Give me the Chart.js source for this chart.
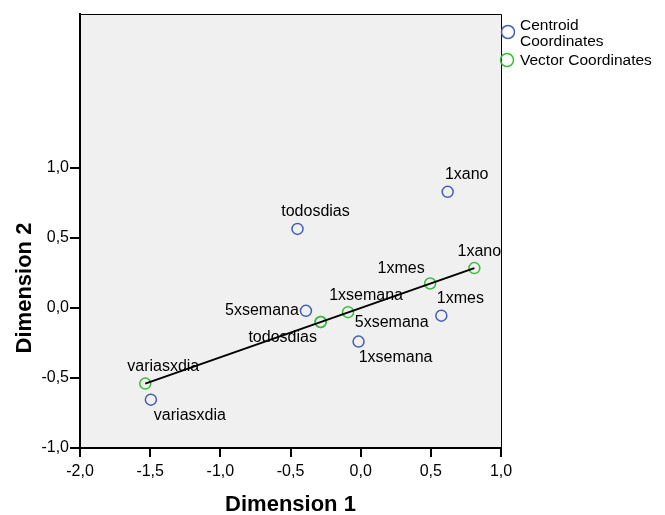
<!DOCTYPE html>
<html>
<head>
  <title>Centroid and Vector Coordinates</title>
  <script src="https://cdn.jsdelivr.net/npm/chart.js"></script>
  <style>
    body { margin: 0; background: #fff; }
  </style>
</head>
<body>
  <canvas id="chart" width="665" height="515"></canvas>
  <script>
    // categories, same order in both series
    const categories = ["1xano", "1xmes", "1xsemana", "5xsemana", "todosdias", "variasxdia"];

    const centroidX = [0.62, 0.575, -0.015, -0.39, -0.45, -1.495];
    const centroidY = [0.83, -0.055, -0.24, -0.02, 0.565, -0.655];

    const vectorX = [0.81, 0.495, -0.09, -0.285, -0.285, -1.535];
    const vectorY = [0.285, 0.175, -0.03, -0.10, -0.10, -0.54];

    const xTicks = [-2.0, -1.5, -1.0, -0.5, 0.0, 0.5, 1.0];
    const yTicks = [-1.0, -0.5, 0.0, 0.5, 1.0];

    const BLUE = "#4060b8";
    const GREEN = "#3cbc3c";
    const FONT = "'Liberation Sans', Arial, sans-serif";

    // label offsets in px from each point [dx, dy]
    const centroidLabelPos = [[19, -17], [19, -17], [37, 16], [-44, 0], [18, -17], [39, 16]];
    const vectorLabelPos = [[5, -17], [-29, -15], [18, -17], [71, 1], [-38, 16], [18, -17]];

    const toPoints = (xs, ys) => xs.map((x, i) => ({ x: x, y: ys[i] }));

    // fitted line between the two extreme vector points
    const iMin = vectorX.indexOf(Math.min(...vectorX));
    const iMax = vectorX.indexOf(Math.max(...vectorX));
    const linePoints = [
      { x: vectorX[iMin], y: vectorY[iMin] },
      { x: vectorX[iMax], y: vectorY[iMax] }
    ];

    const fmt = v => v.toFixed(1).replace(".", ",");

    const plotDecor = {
      id: "plotDecor",
      beforeDraw(chart) {
        const { ctx, chartArea: a } = chart;
        ctx.save();
        ctx.fillStyle = "#f0f0f0";
        ctx.fillRect(a.left, a.top, a.right - a.left, a.bottom - a.top);
        ctx.restore();
      },
      afterDraw(chart) {
        const { ctx, chartArea: a } = chart;
        ctx.save();
        // top and right frame
        ctx.strokeStyle = "#000";
        ctx.lineWidth = 1;
        ctx.beginPath();
        ctx.moveTo(a.left, a.top + 0.5);
        ctx.lineTo(a.right + 0.5, a.top + 0.5);
        ctx.lineTo(a.right + 0.5, a.bottom);
        ctx.stroke();

        // axis titles
        ctx.fillStyle = "#000";
        ctx.font = "bold 22px " + FONT;
        ctx.textAlign = "center";
        ctx.textBaseline = "middle";
        ctx.fillText("Dimension 1", (a.left + a.right) / 2, 505);
        ctx.translate(25, 288);
        ctx.rotate(-Math.PI / 2);
        ctx.fillText("Dimension 2", 0, 0);
        ctx.restore();

        // legend
        ctx.save();
        ctx.lineWidth = 1.5;
        ctx.strokeStyle = BLUE;
        ctx.beginPath();
        ctx.arc(508, 32, 6.5, 0, Math.PI * 2);
        ctx.stroke();
        ctx.strokeStyle = GREEN;
        ctx.beginPath();
        ctx.arc(507, 60, 6.5, 0, Math.PI * 2);
        ctx.stroke();
        ctx.fillStyle = "#000";
        ctx.font = "15.5px " + FONT;
        ctx.textAlign = "left";
        ctx.textBaseline = "middle";
        ctx.fillText("Centroid", 520, 26);
        ctx.fillText("Coordinates", 520, 42);
        ctx.fillText("Vector Coordinates", 520, 61);
        ctx.restore();
      },
      afterDatasetsDraw(chart) {
        const { ctx } = chart;
        ctx.save();
        ctx.fillStyle = "#000";
        ctx.font = "16px " + FONT;
        ctx.textAlign = "center";
        ctx.textBaseline = "middle";
        [centroidLabelPos, vectorLabelPos].forEach((pos, di) => {
          const meta = chart.getDatasetMeta(di);
          meta.data.forEach((pt, j) => {
            ctx.fillText(categories[j], pt.x + pos[j][0], pt.y + pos[j][1]);
          });
        });
        ctx.restore();
      }
    };

    new Chart(document.getElementById("chart"), {
      type: "scatter",
      data: {
        datasets: [
          {
            label: "Centroid Coordinates",
            data: toPoints(centroidX, centroidY),
            pointStyle: "circle",
            pointRadius: 5.5,
            pointBorderWidth: 1.5,
            borderColor: BLUE,
            backgroundColor: "rgba(0,0,0,0)",
            order: 2
          },
          {
            label: "Vector Coordinates",
            data: toPoints(vectorX, vectorY),
            pointStyle: "circle",
            pointRadius: 5.5,
            pointBorderWidth: 1.5,
            borderColor: GREEN,
            backgroundColor: "rgba(0,0,0,0)",
            order: 1
          },
          {
            label: "line",
            data: linePoints,
            showLine: true,
            pointRadius: 0,
            borderColor: "#000",
            borderWidth: 2,
            order: 0
          }
        ]
      },
      options: {
        responsive: false,
        animation: false,
        layout: { padding: { top: 14, right: 164, left: 0, bottom: 0 } },
        plugins: {
          legend: { display: false },
          tooltip: { enabled: false }
        },
        scales: {
          x: {
            type: "linear",
            min: -2,
            max: 1,
            afterBuildTicks: axis => { axis.ticks = xTicks.map(v => ({ value: v })); },
            afterFit: axis => { axis.height = 67; },
            ticks: {
              callback: v => fmt(v),
              color: "#000",
              font: { family: FONT, size: 16 },
              padding: 5,
              maxRotation: 0
            },
            grid: { drawOnChartArea: false, drawTicks: true, tickLength: 9, color: "#000", lineWidth: 2 },
            border: { display: true, color: "#000", width: 2 }
          },
          y: {
            type: "linear",
            min: -1,
            max: 2.1,
            afterBuildTicks: axis => { axis.ticks = yTicks.map(v => ({ value: v })); },
            afterFit: axis => { axis.width = 80; },
            ticks: {
              callback: v => fmt(v),
              color: "#000",
              font: { family: FONT, size: 16 },
              padding: 1
            },
            grid: { drawOnChartArea: false, drawTicks: true, tickLength: 10, color: "#000", lineWidth: 2 },
            border: { display: true, color: "#000", width: 2 }
          }
        }
      },
      plugins: [plotDecor]
    });
  </script>
</body>
</html>
